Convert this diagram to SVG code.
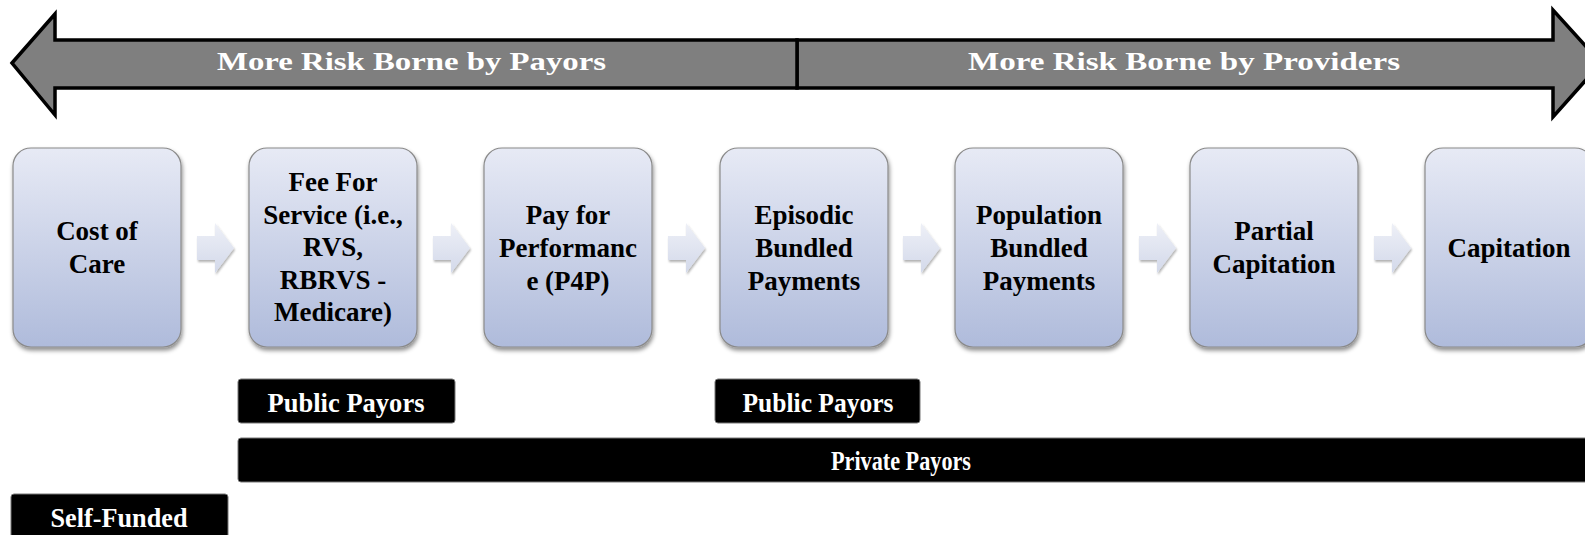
<svg xmlns="http://www.w3.org/2000/svg" width="1585" height="535" viewBox="0 0 1585 535">
<defs>
<linearGradient id="boxg" x1="0" y1="0" x2="0" y2="1">
<stop offset="0" stop-color="#e7eaf5"/>
<stop offset="1" stop-color="#afbbdb"/>
</linearGradient>
<linearGradient id="arrg" x1="0" y1="0" x2="0" y2="1">
<stop offset="0" stop-color="#eef0f7"/>
<stop offset="1" stop-color="#d3d9ea"/>
</linearGradient>
<filter id="sh" x="-10%" y="-10%" width="130%" height="130%">
<feDropShadow dx="1" dy="3" stdDeviation="2" flood-color="#000" flood-opacity="0.45"/>
</filter>
<filter id="sh2" x="-20%" y="-20%" width="150%" height="150%">
<feDropShadow dx="1" dy="2" stdDeviation="1.2" flood-color="#000" flood-opacity="0.3"/>
</filter>
<path id="chev" d="M-18,-12 H0 V-25 L19,0 L0,25 V12 H-18 Z"/>
</defs>
<style>
.big{fill:#7f7f7f;stroke:#000;stroke-width:3.5;stroke-linejoin:miter}
.ht{font-family:"Liberation Serif","Times New Roman",serif;font-weight:bold;font-size:26px;fill:#fff}
.box{fill:url(#boxg);stroke:#8a8a8a;stroke-width:1.2;filter:url(#sh)}
.nt{font-family:"Liberation Serif","Times New Roman",serif;font-weight:bold;font-size:27px;fill:#000;text-anchor:middle}
.lab{fill:#000;stroke:#777;stroke-width:1}
.lt{font-family:"Liberation Serif","Times New Roman",serif;font-weight:bold;font-size:28px;fill:#fff;text-anchor:middle}
.ch{fill:url(#arrg);filter:url(#sh2)}
</style>
<rect width="1585" height="535" fill="#fff"/>

<g id="risk-arrow">
<polygon class="big" points="797,40 1553,40 1553,10 1601,63 1553,117 1553,88 797,88"/>
<polygon class="big" points="12,63 55,14 55,40 797,40 797,88 55,88 55,115"/>
<text class="ht" x="217" y="70" textLength="389" lengthAdjust="spacingAndGlyphs">More Risk Borne by Payors</text>
<text class="ht" x="968" y="70" textLength="432" lengthAdjust="spacingAndGlyphs">More Risk Borne by Providers</text>
</g>

<g id="connectors">
<use href="#chev" class="ch" x="215" y="248"/>
<use href="#chev" class="ch" x="451" y="248"/>
<use href="#chev" class="ch" x="686" y="248"/>
<use href="#chev" class="ch" x="921" y="248"/>
<use href="#chev" class="ch" x="1157" y="248"/>
<use href="#chev" class="ch" x="1392" y="248"/>
</g>

<g id="node-cost">
<rect class="box" x="13" y="148" width="168" height="199" rx="18"/>
<text class="nt" x="97" y="240">Cost of</text>
<text class="nt" x="97" y="273">Care</text>
</g>
<g id="node-ffs">
<rect class="box" x="249" y="148" width="168" height="199" rx="18"/>
<text class="nt" x="333" y="191">Fee For</text>
<text class="nt" x="333" y="223.5">Service (i.e.,</text>
<text class="nt" x="333" y="256">RVS,</text>
<text class="nt" x="333" y="288.5">RBRVS -</text>
<text class="nt" x="333" y="321">Medicare)</text>
</g>
<g id="node-p4p">
<rect class="box" x="484" y="148" width="168" height="199" rx="18"/>
<text class="nt" x="568" y="223.5">Pay for</text>
<text class="nt" x="568" y="256.5">Performanc</text>
<text class="nt" x="568" y="289.5">e (P4P)</text>
</g>
<g id="node-episodic">
<rect class="box" x="720" y="148" width="168" height="199" rx="18"/>
<text class="nt" x="804" y="223.5">Episodic</text>
<text class="nt" x="804" y="256.5">Bundled</text>
<text class="nt" x="804" y="289.5">Payments</text>
</g>
<g id="node-population">
<rect class="box" x="955" y="148" width="168" height="199" rx="18"/>
<text class="nt" x="1039" y="223.5">Population</text>
<text class="nt" x="1039" y="256.5">Bundled</text>
<text class="nt" x="1039" y="289.5">Payments</text>
</g>
<g id="node-partial">
<rect class="box" x="1190" y="148" width="168" height="199" rx="18"/>
<text class="nt" x="1274" y="240">Partial</text>
<text class="nt" x="1274" y="273">Capitation</text>
</g>
<g id="node-capitation">
<rect class="box" x="1425" y="148" width="168" height="199" rx="18"/>
<text class="nt" x="1509" y="257">Capitation</text>
</g>

<g id="label-public1">
<rect class="lab" x="238" y="379" width="217" height="44" rx="3"/>
<text class="lt" x="346" y="412" textLength="157" lengthAdjust="spacingAndGlyphs">Public Payors</text>
</g>
<g id="label-public2">
<rect class="lab" x="715" y="379" width="205" height="44" rx="3"/>
<text class="lt" x="818" y="412" textLength="151" lengthAdjust="spacingAndGlyphs">Public Payors</text>
</g>
<g id="label-private">
<rect class="lab" x="238" y="438" width="1360" height="44" rx="3"/>
<text class="lt" x="901" y="470" textLength="140" lengthAdjust="spacingAndGlyphs">Private Payors</text>
</g>
<g id="label-self">
<rect class="lab" x="11" y="494" width="217" height="50" rx="3"/>
<text class="lt" x="119" y="527" textLength="137" lengthAdjust="spacingAndGlyphs">Self-Funded</text>
</g>
</svg>
